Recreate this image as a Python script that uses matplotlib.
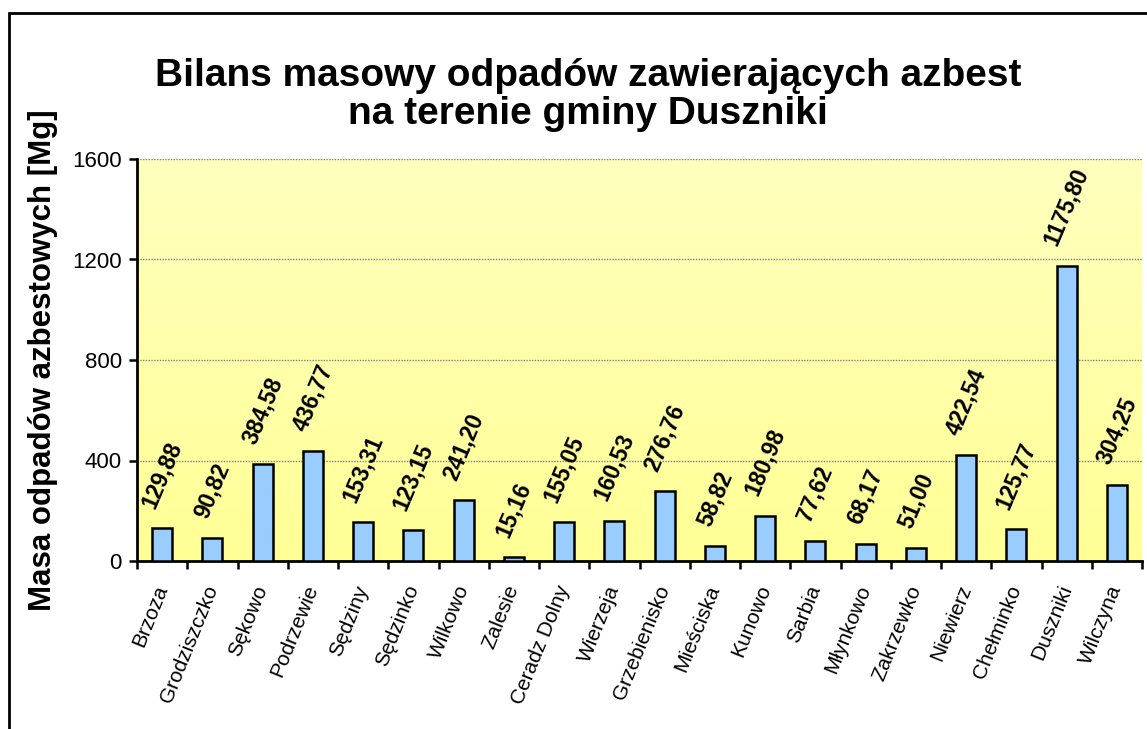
import numpy as np
import matplotlib
matplotlib.use("Agg")
from matplotlib import pyplot as plt
from matplotlib.colors import LinearSegmentedColormap
from matplotlib.patches import Rectangle

villages = [
    "Brzoza", "Grodziszczko", "Sękowo", "Podrzewie", "Sędziny", "Sędzinko",
    "Wilkowo", "Zalesie", "Ceradz Dolny", "Wierzeja", "Grzebienisko",
    "Mieściska", "Kunowo", "Sarbia", "Młynkowo", "Zakrzewko", "Niewierz",
    "Chełminko", "Duszniki", "Wilczyna",
]
mass = [
    129.88, 90.82, 384.58, 436.77, 153.31, 123.15, 241.20, 15.16, 155.05,
    160.53, 276.76, 58.82, 180.98, 77.62, 68.17, 51.00, 422.54, 125.77,
    1175.80, 304.25,
]
y_ticks = [0, 400, 800, 1200, 1600]

plt.rcParams["font.family"] = ["Liberation Sans", "DejaVu Sans"]

W, H = 1147, 729
fig = plt.figure(figsize=(W / 100, H / 100), dpi=100)
ax = fig.add_axes([137 / W, 1 - 561 / H, (1142 - 137) / W, (561 - 159) / H])

x = np.arange(len(villages))
ax.set_xlim(-0.5, len(villages) - 0.5)
ax.set_ylim(0, 1600)

# yellow gradient background
cmap = LinearSegmentedColormap.from_list("bg", ["#FFFF96", "#FFFFBE"])
grad = np.linspace(0, 1, 256).reshape(-1, 1)
ax.imshow(grad, cmap=cmap, aspect="auto", origin="lower",
          extent=(-0.5, len(villages) - 0.5, 0, 1600), zorder=0)

ax.bar(x, mass, width=0.4, color="#99CCFF", edgecolor="black",
       linewidth=1.8, zorder=3)

for xi, v in zip(x, mass):
    label = f"{v:.2f}".replace(".", ",")
    ax.annotate(label, (xi, v), xytext=(0, 12), textcoords="offset points",
                ha="center", va="bottom", rotation=67, fontsize=16.5,
                fontweight="bold", zorder=4)

ax.set_yticks(y_ticks)
ax.set_yticklabels([str(t) for t in y_ticks], fontsize=16)
ax.yaxis.grid(True, color="#7f7f7f", linestyle=(0, (1, 1)), linewidth=1.0)
ax.set_axisbelow(True)

# category ticks sit between bars
ax.set_xticks(np.arange(-0.5, len(villages), 1.0))
ax.set_xticklabels([])
ax.set_xticks(x, minor=True)
ax.set_xticklabels(villages, minor=True, rotation=68, ha="right",
                   va="center", rotation_mode="anchor", fontsize=15)
ax.tick_params(axis="x", which="minor", length=0, pad=18)
ax.tick_params(axis="x", which="major", length=6, width=1.8, direction="out")
ax.tick_params(axis="y", length=6, width=1.8, direction="out", pad=5)

for side in ("left", "bottom"):
    ax.spines[side].set_linewidth(2)
for side in ("top", "right"):
    ax.spines[side].set_visible(False)

ax.set_ylabel("Masa odpadów azbestowych [Mg]", fontsize=22.5,
              fontweight="bold", labelpad=10)

fig.text(588 / W, 1 - 95 / H,
         "Bilans masowy odpadów zawierających azbest\nna terenie gminy Duszniki",
         ha="center", va="center", fontsize=28, fontweight="bold",
         linespacing=1.05)

fig.patches.append(Rectangle((9 / W, -0.1), 1.2, 1 - 13 / H + 0.1,
                             transform=fig.transFigure, fill=False,
                             edgecolor="black", linewidth=2))

fig.savefig("out.png", dpi=100)
